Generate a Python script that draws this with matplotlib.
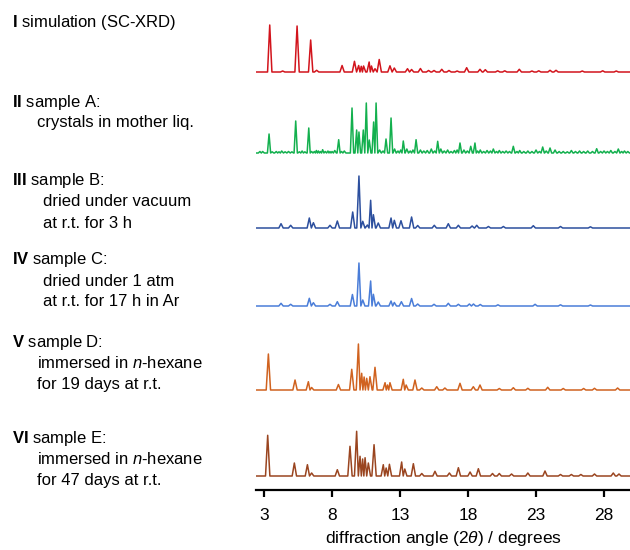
import matplotlib
matplotlib.use("Agg")
import matplotlib.pyplot as plt

plt.rcParams['font.family'] = ['Liberation Sans', 'DejaVu Sans']
plt.rcParams['mathtext.fontset'] = 'custom'
plt.rcParams['mathtext.rm'] = 'Liberation Sans'
plt.rcParams['mathtext.it'] = 'Liberation Sans:italic'
plt.rcParams['mathtext.bf'] = 'Liberation Sans:bold'

# peak lists: position (2theta, deg), height (arb. units)
sim_pos = [3.42, 4.37, 5.43, 6.43, 6.87, 8.74, 9.65, 9.96, 10.15, 10.32, 10.73, 10.9,
           11.16, 11.47, 12.26, 12.58, 13.55, 13.85, 14.5, 15.1, 15.5, 16.07, 16.6, 17.2,
           17.9, 18.88, 19.27, 20.18, 20.7, 21.77, 22.7, 23.2, 24.03, 24.47, 26.4, 27.9, 28.9]
sim_h = [47, 1, 46, 32, 1.7, 6.5, 10.7, 6.5, 5.7, 6, 10, 6,
         3.3, 12.5, 6.2, 4, 3.3, 2.5, 3.5, 1.5, 1.5, 2.7, 1.5, 1,
         4.3, 2.7, 2.3, 1.2, 1.2, 2.7, 1, 1.2, 1.7, 1.7, 1, 1.2, 1]

liq_pos = [2.7, 2.9, 3.37, 3.6, 3.9, 4.1, 4.3, 4.55, 4.8, 5.05, 5.33, 5.6, 5.8, 6.0, 6.29,
           6.5, 6.7, 6.85, 7.0, 7.15, 7.31, 7.5, 7.7, 7.85, 8.0, 8.2, 8.49, 8.7, 8.9,
           9.47, 9.81, 9.98, 10.3, 10.52, 10.74, 11.06, 11.24, 11.5, 11.75, 11.97, 12.34,
           12.6, 12.85, 13.05, 13.24, 13.5, 13.75, 13.95, 14.18, 14.5, 14.75, 15.0, 15.3,
           15.55, 15.77, 16.0, 16.25, 16.5, 16.75, 17.0, 17.2, 17.41, 17.7, 17.95, 18.2,
           18.51, 18.7, 18.9, 19.15, 19.4, 19.65, 19.86, 20.1, 20.3, 20.55, 20.8, 21.05,
           21.33, 21.6, 21.8, 22.1, 22.4, 22.7, 23.0, 23.25, 23.49, 23.75, 24.03, 24.4,
           24.7, 25.0, 25.3, 25.6, 25.9, 26.2, 26.5, 26.8, 27.15, 27.46, 27.75, 28.0,
           28.25, 28.5, 28.8, 29.05, 29.3, 29.5, 29.75]
liq_h = [1.5, 1.5, 19, 1.2, 1.5, 1.2, 2, 1.2, 1.5, 1.2, 32, 1.2, 2, 1.2, 25,
         1.5, 1.5, 2.5, 2, 1.5, 3.3, 1.5, 2, 1.5, 1.5, 2.5, 13.3, 1.5, 2,
         45, 23, 21, 23, 50, 13, 31, 50, 3, 2, 14, 35,
         4, 2, 3, 12, 4, 2, 3, 13.3, 3, 2, 2.5, 4,
         2, 11.7, 4, 2, 3, 1.5, 2.5, 3, 10, 3, 2, 6.7,
         10, 2, 3, 1.5, 2.5, 2, 4, 1.5, 2.5, 1.5, 2, 1.5,
         6.7, 1.5, 2.5, 1.5, 2, 1.5, 3, 1.5, 6, 2,
         5, 3, 1.5, 1.5, 1.2, 2.5, 1.5, 2, 1.5, 2, 1.5, 4.3, 1.5, 2,
         1.5, 2.5, 1.5, 4, 1.5, 2, 1.5]

vac_pos = [4.25, 4.96, 6.33, 6.63, 7.85, 8.39, 9.52, 9.98, 10.26, 10.6, 10.84, 11.04, 11.4,
           12.34, 12.58, 13.07, 13.85, 14.3, 15.52, 16.55, 17.29, 18.3, 18.64, 19.5,
           20.6, 22.8, 24.8, 27.0]
vac_h = [4.3, 2.7, 10, 5.3, 2.7, 7, 16, 52, 6.7, 3, 27.7, 13.3, 5,
         10, 7.7, 7.3, 11, 2.5, 2.7, 4.3, 2.7, 2, 2.7, 1.5,
         1.5, 2.3, 1.5, 1.2]

atm_pos = [4.25, 4.96, 6.33, 6.63, 7.85, 8.39, 9.5, 9.98, 10.26, 10.84, 11.04, 11.4,
           12.34, 12.58, 13.1, 13.85, 14.3, 15.5, 16.55, 17.29, 18.1, 18.4, 18.9,
           20.2, 22.93, 24.8, 27.0]
atm_h = [2.7, 1.7, 7.7, 3.3, 1.7, 4.3, 11.5, 43, 6, 25, 11.7, 4,
         5, 3.5, 4.3, 7.5, 2, 1.7, 2.7, 1.7, 2, 2, 1.5,
         1.2, 1.7, 1.2, 1]

hx19_pos = [3.32, 5.28, 6.26, 6.5, 8.47, 9.45, 9.94, 10.18, 10.36, 10.55, 10.79, 11.16,
            11.9, 12.08, 12.26, 13.24, 13.45, 14.1, 14.6, 15.7, 16.3, 17.41, 18.39, 18.88,
            20.3, 21.33, 22.4, 23.86, 25.0, 26.5, 27.3, 29.0]
hx19_h = [36, 10, 8.3, 2.5, 5.5, 20.7, 46, 16.7, 13, 11.7, 13.3, 22.7,
          7.3, 5, 7.3, 10.7, 5, 10, 2, 3.3, 2, 6.7, 3.3, 5,
          1.5, 2.3, 1.7, 2.7, 1.5, 1.5, 1.7, 2]

hx47_pos = [3.27, 5.23, 6.19, 6.5, 8.39, 9.32, 9.81, 10.06, 10.25, 10.43, 10.67, 11.09,
            11.77, 11.98, 12.22, 13.12, 13.35, 13.98, 14.6, 15.57, 16.63, 17.29, 18.15,
            18.76, 19.8, 20.3, 21.2, 22.4, 23.66, 24.8, 25.6, 26.3, 27.3, 28.68, 29.1]
hx47_h = [40.7, 13, 11.3, 3, 6.3, 29.7, 44.7, 19.7, 17, 18.3, 13, 31.3,
          11.3, 8, 11.7, 14, 7, 12.3, 2.5, 4.7, 3, 8.3, 4,
          7.3, 2.5, 2.5, 2, 3, 5, 1.5, 1.5, 1.5, 2, 3, 2]

patterns = [
    (sim_pos, sim_h, 418, '#d2141c', 0.16),
    (liq_pos, liq_h, 337, '#13b04e', 0.12),
    (vac_pos, vac_h, 262, '#2c4f9e', 0.16),
    (atm_pos, atm_h, 184, '#4a7dd8', 0.16),
    (hx19_pos, hx19_h, 100, '#d0621f', 0.16),
    (hx47_pos, hx47_h, 14, '#9a4520', 0.16),
]

x_lo, x_hi = 2.41, 29.91


def trace(pos, h, base, hw):
    # polyline through each peak: left foot, top, right foot
    xs, ys = [x_lo], [base]
    for i, (p, v) in enumerate(zip(pos, h)):
        left = hw if i == 0 else min(hw, (p - pos[i - 1]) / 2)
        right = hw if i == len(pos) - 1 else min(hw, (pos[i + 1] - p) / 2)
        xs += [p - left, p, p + right]
        ys += [base, base + v, base]
    xs.append(x_hi)
    ys.append(base)
    return xs, ys


fig = plt.figure(figsize=(6.3, 5.5), dpi=100)
ax = fig.add_axes([256 / 630, 60 / 550, 374 / 630, 490 / 550])

for pos, h, base, color, hw in patterns:
    xs, ys = trace(pos, h, base, hw)
    ax.plot(xs, ys, color=color, lw=1.1, solid_joinstyle='round')

ax.set_xlim(x_lo, x_hi)
ax.set_ylim(0, 490)
ax.set_xticks([3, 8, 13, 18, 23, 28])
ax.set_yticks([])
for s in ['top', 'right', 'left']:
    ax.spines[s].set_visible(False)
ax.spines['bottom'].set_linewidth(1.6)
ax.tick_params(axis='x', direction='out', length=5, width=1.6, labelsize=12.5, pad=8)
ax.set_xlabel(r'diffraction angle (2$\theta$) / degrees', fontsize=12.5, labelpad=4)

# sample descriptions on the left
labels = [
    ('I', 'simulation (SC-XRD)', 22, []),
    ('II', 'sample A:', 102, [('crystals in mother liq.', 37)]),
    ('III', 'sample B:', 181, [('dried under vacuum', 43), ('at r.t. for 3 h', 43)]),
    ('IV', 'sample C:', 260, [('dried under 1 atm', 43), ('at r.t. for 17 h in Ar', 43)]),
    ('V', 'sample D:', 342, [(r'immersed in $\mathit{n}$-hexane', 37), ('for 19 days at r.t.', 37)]),
    ('VI', 'sample E:', 438, [(r'immersed in $\mathit{n}$-hexane', 37), ('for 47 days at r.t.', 37)]),
]
fs = 12
for num, head, y, rest in labels:
    fig.text(12 / 630, 1 - y / 550, r'$\mathbf{%s}$ %s' % (num, head), fontsize=fs, va='center')
    for k, (line, xi) in enumerate(rest):
        fig.text(xi / 630, 1 - (y + 21 * (k + 1)) / 550, line, fontsize=fs, va='center')

fig.savefig('out.png', dpi=100)
